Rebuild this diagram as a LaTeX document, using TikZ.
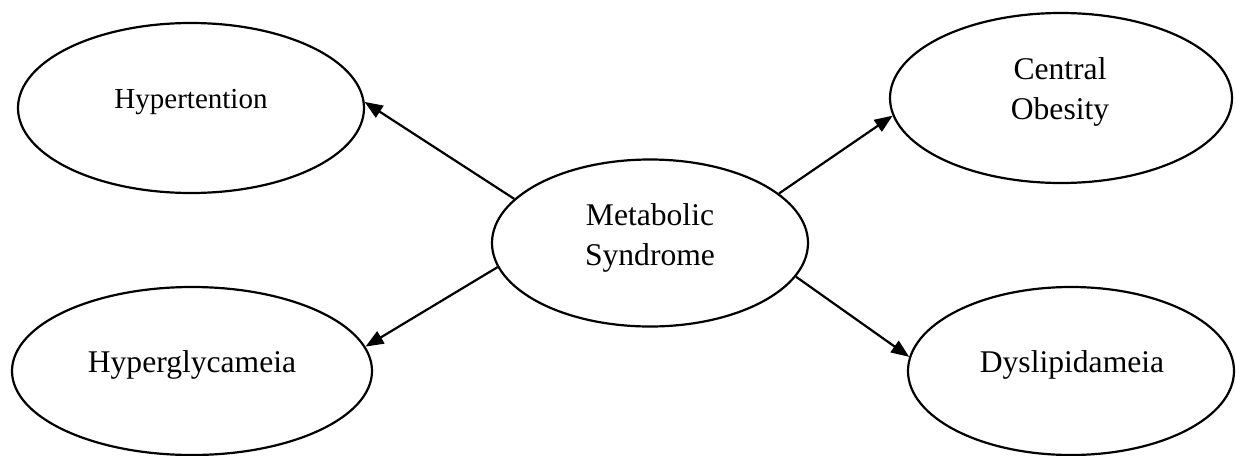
\documentclass[tikz,border=0pt]{standalone}
\usepackage{fontspec}
\setmainfont{Liberation Serif}
\usetikzlibrary{arrows.meta,shapes.geometric}

\begin{document}
\begin{tikzpicture}[x=1pt,y=-1pt,->,>={Triangle[length=18pt,width=14pt]},line width=2.2pt,
      blob/.style={ellipse,draw,inner sep=0pt},
      txt/.style={anchor=base,align=center,font=\fontsize{31.6}{40}\selectfont}]
  \useasboundingbox (0,0) rectangle (1236,455);
  % ellipses
  \node[blob,minimum width=346pt,minimum height=170pt] (hyper) at (191,108) {};
  \node[blob,minimum width=342pt,minimum height=170pt] (obes) at (1061,98) {};
  \node[blob,minimum width=316pt,minimum height=167pt] (meta) at (650,243) {};
  \node[blob,minimum width=360pt,minimum height=168pt] (glyc) at (192,371) {};
  \node[blob,minimum width=326pt,minimum height=168pt] (lipid) at (1071,371) {};
  % texts
  \node[txt,font=\fontsize{29}{36}\selectfont] (hypertxt) at (191,108) {Hypertention};
  \node[txt] (obestxt) at (1060,119) {Central\\Obesity};
  \node[txt] (metatxt) at (650,265) {Metabolic\\Syndrome};
  \node[txt] (glyctxt) at (192,372) {Hyperglycameia};
  \node[txt] (lipidtxt) at (1072,372) {Dyslipidameia};
  % arrows
  \path
    (meta.162) edge (hyper.2)
    (meta.21) edge (obes.186.6)
    (meta.189.2) edge (glyc.8.6)
    (meta.-13) edge (lipid.175.4);
\end{tikzpicture}
\end{document}
